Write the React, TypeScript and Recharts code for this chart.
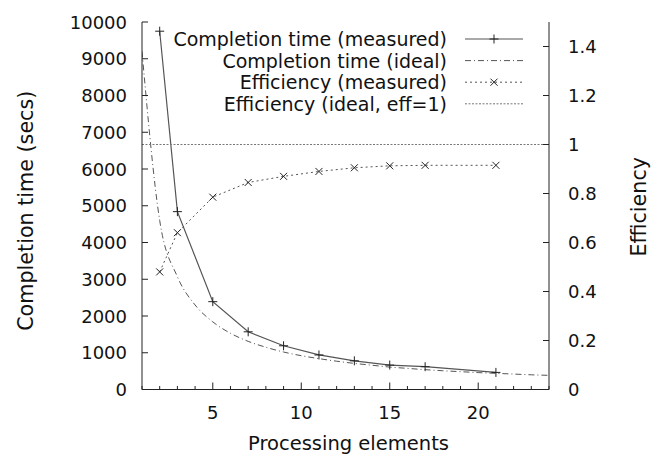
import { ComposedChart, Line, XAxis, YAxis, Legend, Label } from "recharts";

// processing elements where runs were measured
const peMeasured = [2, 3, 5, 7, 9, 11, 13, 15, 17, 21];
const timeMeasured = [9750, 4840, 2390, 1570, 1190, 940, 780, 665, 620, 465];
const effMeasured = [0.48, 0.64, 0.785, 0.845, 0.87, 0.89, 0.905, 0.913, 0.915, 0.915];

// ideal curve
const peIdeal = [1, 2, 3, 4, 5, 6, 7, 8, 9, 10, 11, 12, 13, 14, 15, 16, 17, 18, 19, 20, 21, 22, 23, 24];
const timeIdeal = [
  9200, 4600, 3070, 2300, 1840, 1530, 1310, 1150, 1020, 920, 840, 770,
  710, 660, 610, 575, 540, 510, 485, 460, 440, 420, 400, 385,
];

const peEffIdeal = [1, 24];
const effIdeal = [1, 1];

const seriesNames = [
  "Completion time (measured)",
  "Completion time (ideal)",
  "Efficiency (measured)",
  "Efficiency (ideal, eff=1)",
];

const xTicks = [1, 2, 3, 4, 5, 6, 7, 8, 9, 10, 11, 12, 13, 14, 15, 16, 17, 18, 19, 20, 21, 22, 23, 24];
const xLabelled = [5, 10, 15, 20];
const yTicks = [0, 1000, 2000, 3000, 4000, 5000, 6000, 7000, 8000, 9000, 10000];
const y2Ticks = [0, 0.2, 0.4, 0.6, 0.8, 1, 1.2, 1.4];

const FONT = "DejaVu Sans";
const INK = "#222";
const LINE = "#555";

const toRows = (xs: number[], ys: number[]) => xs.map((pe, i) => ({ pe, v: ys[i] }));

const plusPath = (x: number, y: number) => `M${x - 4.5},${y}h9M${x},${y - 4.5}v9`;
const crossPath = (x: number, y: number) =>
  `M${x - 3.5},${y - 3.5}l7,7M${x - 3.5},${y + 3.5}l7,-7`;

const PlusDot = (props: any) => {
  const { cx, cy, index } = props;
  if (cx == null || cy == null) return <g key={index} />;
  return <path key={index} d={plusPath(cx, cy)} stroke={INK} strokeWidth={1} fill="none" />;
};

const CrossDot = (props: any) => {
  const { cx, cy, index } = props;
  if (cx == null || cy == null) return <g key={index} />;
  return <path key={index} d={crossPath(cx, cy)} stroke={INK} strokeWidth={1} fill="none" />;
};

const BottomTick = (props: any) => {
  const { x, y, payload } = props;
  const major = xLabelled.includes(payload.value);
  return (
    <g>
      <line x1={x} x2={x} y1={y} y2={y - (major ? 7 : 3.5)} stroke={INK} />
      {major && (
        <text x={x} y={y + 29} textAnchor="middle" fontFamily={FONT} fontSize={18} fill="#111">
          {payload.value}
        </text>
      )}
    </g>
  );
};

const TopTick = (props: any) => {
  const { x, y, payload } = props;
  const major = xLabelled.includes(payload.value);
  return <line x1={x} x2={x} y1={y} y2={y + (major ? 7 : 3.5)} stroke={INK} />;
};

const LeftTick = (props: any) => {
  const { x, y, payload } = props;
  return (
    <g>
      <line x1={x} x2={x + 6} y1={y} y2={y} stroke={INK} />
      <text x={x - 15} y={y + 6.5} textAnchor="end" fontFamily={FONT} fontSize={18} fill="#111">
        {payload.value}
      </text>
    </g>
  );
};

const RightTick = (props: any) => {
  const { x, y, payload } = props;
  return (
    <g>
      <line x1={x} x2={x - 6} y1={y} y2={y} stroke={INK} />
      <text x={x + 19} y={y + 6.5} textAnchor="start" fontFamily={FONT} fontSize={18} fill="#111">
        {String(payload.value)}
      </text>
    </g>
  );
};

const MirrorTick = (props: any) => {
  const { x, y } = props;
  return <line x1={x} x2={x - 6} y1={y} y2={y} stroke={INK} />;
};

const markerFor: Record<string, "plus" | "cross" | undefined> = {
  "Completion time (measured)": "plus",
  "Efficiency (measured)": "cross",
};

const LegendBox = (props: any) => {
  const entries = [...(props.payload || [])].sort(
    (a: any, b: any) => seriesNames.indexOf(a.value) - seriesNames.indexOf(b.value)
  );
  return (
    <svg width={658} height={120} style={{ display: "block" }}>
      {entries.map((e: any, i: number) => {
        const cy = 39 + i * 21.6;
        const dash = e.payload?.strokeDasharray;
        const width = e.payload?.strokeWidth ?? 1;
        const stroke = e.payload?.stroke ?? LINE;
        const m = markerFor[e.value];
        return (
          <g key={e.value}>
            <text x={447} y={cy + 7} textAnchor="end" fontFamily={FONT} fontSize={19} fill="#111">
              {e.value}
            </text>
            <line x1={465} x2={523} y1={cy} y2={cy} stroke={stroke} strokeWidth={width} strokeDasharray={dash} />
            {m === "plus" && <path d={plusPath(494, cy)} stroke={INK} fill="none" />}
            {m === "cross" && <path d={crossPath(494, cy)} stroke={INK} fill="none" />}
          </g>
        );
      })}
    </svg>
  );
};

export default function App() {
  return (
    <div style={{ position: "absolute", left: 0, top: 0, background: "#fff" }}>
      <ComposedChart width={658} height={455} margin={{ top: 22, right: 0, bottom: 0, left: 0 }}>
        <XAxis
          xAxisId="b"
          dataKey="pe"
          type="number"
          domain={[1, 24]}
          ticks={xTicks}
          interval={0}
          allowDataOverflow
          height={65.5}
          tickSize={0}
          tickMargin={0}
          tickLine={false}
          tick={BottomTick}
          axisLine={{ stroke: INK }}
        >
          <Label
            content={(p: any) => {
              const vb = p.viewBox || {};
              return (
                <text x={vb.x + vb.width / 2 + 3} y={450} textAnchor="middle" fontFamily={FONT} fontSize={19.5} fill="#111">
                  Processing elements
                </text>
              );
            }}
          />
        </XAxis>
        <XAxis
          xAxisId="top"
          orientation="top"
          dataKey="pe"
          type="number"
          domain={[1, 24]}
          ticks={xTicks}
          interval={0}
          allowDataOverflow
          height={0}
          tickSize={0}
          tickMargin={0}
          tickLine={false}
          tick={TopTick}
          axisLine={{ stroke: INK }}
        />
        <YAxis
          yAxisId="t"
          orientation="left"
          type="number"
          domain={[0, 10000]}
          ticks={yTicks}
          interval={0}
          allowDataOverflow
          width={142}
          tickSize={0}
          tickMargin={0}
          tickLine={false}
          tick={LeftTick}
          axisLine={{ stroke: INK }}
        >
          <Label
            content={(p: any) => {
              const vb = p.viewBox || {};
              const cy = vb.y + vb.height / 2 + 5;
              return (
                <text
                  x={33}
                  y={cy}
                  transform={`rotate(-90 33 ${cy})`}
                  textAnchor="middle"
                  fontFamily={FONT}
                  fontSize={20.7}
                  fill="#111"
                >
                  Completion time (secs)
                </text>
              );
            }}
          />
        </YAxis>
        <YAxis
          yAxisId="tm"
          orientation="right"
          type="number"
          domain={[0, 10000]}
          ticks={yTicks}
          interval={0}
          allowDataOverflow
          width={0}
          tickSize={0}
          tickMargin={0}
          tickLine={false}
          tick={MirrorTick}
          axisLine={false}
        />
        <YAxis
          yAxisId="e"
          orientation="right"
          type="number"
          domain={[0, 1.5]}
          ticks={y2Ticks}
          interval={0}
          allowDataOverflow
          width={109}
          tickSize={0}
          tickMargin={0}
          tickLine={false}
          tick={RightTick}
          axisLine={{ stroke: INK }}
        >
          <Label
            content={(p: any) => {
              const vb = p.viewBox || {};
              const cy = vb.y + vb.height / 2 + 1;
              return (
                <text
                  x={646}
                  y={cy}
                  transform={`rotate(-90 646 ${cy})`}
                  textAnchor="middle"
                  fontFamily={FONT}
                  fontSize={20.7}
                  fill="#111"
                >
                  Efficiency
                </text>
              );
            }}
          />
        </YAxis>

        <Line
          name={seriesNames[0]}
          data={toRows(peMeasured, timeMeasured)}
          dataKey="v"
          xAxisId="b"
          yAxisId="t"
          type="linear"
          stroke={LINE}
          strokeWidth={1.2}
          dot={PlusDot}
          activeDot={false}
          isAnimationActive={false}
        />
        <Line
          name={seriesNames[1]}
          data={toRows(peIdeal, timeIdeal)}
          dataKey="v"
          xAxisId="b"
          yAxisId="t"
          type="monotone"
          stroke={LINE}
          strokeWidth={1}
          strokeDasharray="6 3 1 3"
          dot={false}
          activeDot={false}
          isAnimationActive={false}
        />
        <Line
          name={seriesNames[2]}
          data={toRows(peMeasured, effMeasured)}
          dataKey="v"
          xAxisId="b"
          yAxisId="e"
          type="linear"
          stroke={LINE}
          strokeWidth={1}
          strokeDasharray="2 3"
          dot={CrossDot}
          activeDot={false}
          isAnimationActive={false}
        />
        <Line
          name={seriesNames[3]}
          data={toRows(peEffIdeal, effIdeal)}
          dataKey="v"
          xAxisId="b"
          yAxisId="e"
          type="linear"
          stroke="#777"
          strokeWidth={1}
          strokeDasharray="2 1.5"
          dot={false}
          activeDot={false}
          isAnimationActive={false}
        />
        <Legend
          layout="horizontal"
          align="center"
          verticalAlign="middle"
          content={LegendBox}
          wrapperStyle={{ top: 0, left: 0, width: 658, height: 120 }}
        />
      </ComposedChart>
    </div>
  );
}
